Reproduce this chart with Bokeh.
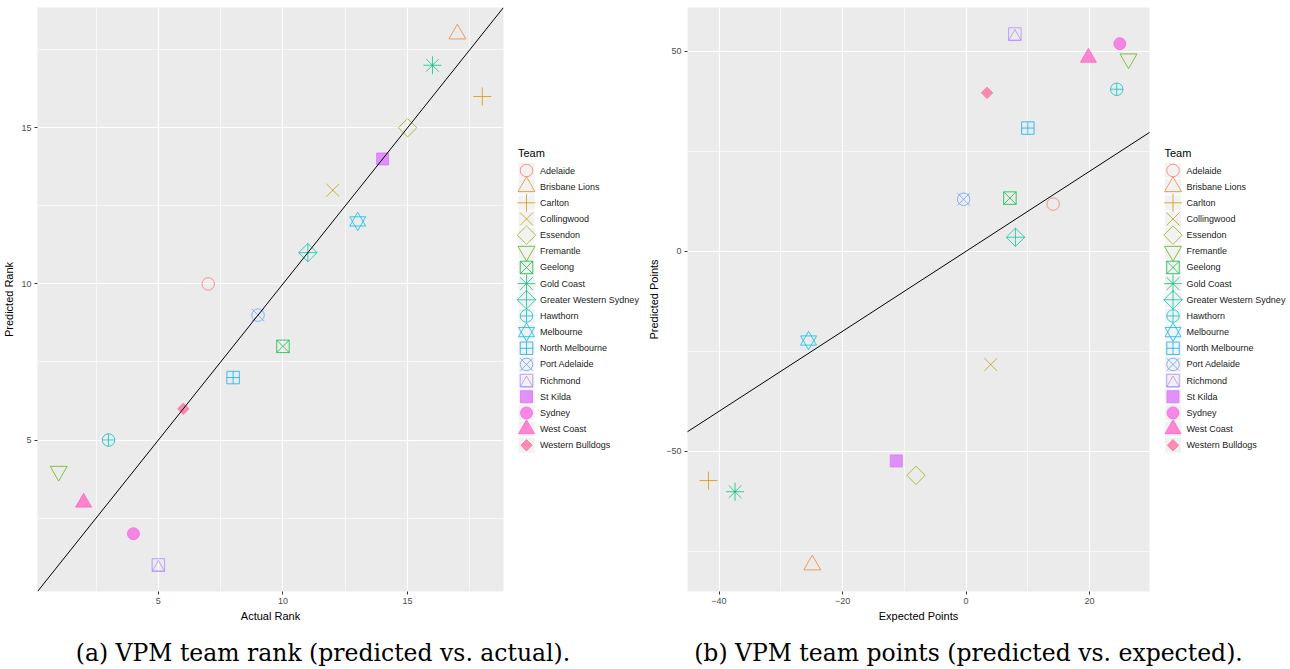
import math
from bokeh.plotting import figure
from bokeh.layouts import row, column
from bokeh.models import Range1d, FixedTicker, ColumnDataSource, Slope
from bokeh.transform import dodge
from bokeh.core.properties import value
from bokeh.embed import file_html
from bokeh.resources import INLINE

# ---------------- data ----------------
teams = ["Adelaide", "Brisbane Lions", "Carlton", "Collingwood", "Essendon", "Fremantle",
         "Geelong", "Gold Coast", "Greater Western Sydney", "Hawthorn", "Melbourne",
         "North Melbourne", "Port Adelaide", "Richmond", "St Kilda", "Sydney",
         "West Coast", "Western Bulldogs"]
actual_rank = [7, 17, 18, 12, 15, 1, 10, 16, 11, 3, 13, 8, 9, 5, 14, 4, 2, 6]
predicted_rank = [10, 18, 16, 13, 15, 4, 8, 17, 11, 5, 12, 7, 9, 1, 14, 2, 3, 6]
expected_points = [14.1, -24.9, -41.7, 4.0, -8.1, 26.3, 7.1, -37.4, 8.0, 24.4,
                   -25.5, 10.0, -0.4, 7.9, -11.3, 24.9, 19.8, 3.4]
predicted_points = [11.8, -78.4, -57.3, -28.3, -56.0, 48.1, 13.3, -60.1, 3.5, 40.5,
                    -22.3, 30.8, 13.0, 54.3, -52.4, 51.9, 48.4, 39.6]
rank_ticks = [5, 10, 15]
rank_minor = [2.5, 7.5, 12.5, 17.5]
exp_ticks = [-40, -20, 0, 20]
exp_minor = [-30, -10, 10]
pred_ticks = [-50, 0, 50]
pred_minor = [-75, -25, 25]
captions = ["(a) VPM team rank (predicted vs. actual).",
            "(b) VPM team points (predicted vs. expected)."]

# ---------------- styles ----------------
palette = ["#F8766D", "#E88526", "#D39200", "#B79F00", "#93AA00", "#5EB300",
           "#00BA38", "#00BF74", "#00C19F", "#00BFC4", "#00B9E3", "#00ADFA",
           "#619CFF", "#AE87FF", "#DB72FB", "#F564E3", "#FF61C3", "#FF699C"]
Q = math.pi / 4
# (marker, filled, size, angle, shift_px)
shapes = [
    [("circle", False, 12.5, 0, 0)],
    [("triangle", False, 17, 0, 0)],
    [("cross", False, 18, 0, 0)],
    [("x", False, 18, 0, 0)],
    [("square", False, 13, Q, 0)],
    [("inverted_triangle", False, 17, 0, 0)],
    [("square_x", False, 12.5, 0, 0)],
    [("asterisk", False, 18, 0, 0)],
    [("square_x", False, 13, Q, 0)],
    [("circle_cross", False, 12.5, 0, 0)],
    [("triangle", False, 16, 0, 0), ("inverted_triangle", False, 16, 0, 0)],
    [("square_cross", False, 12.5, 0, 0)],
    [("circle", False, 12.5, 0, 0), ("x", False, 17.5, 0, 0)],
    [("square", False, 12.5, 0, 0), ("triangle", False, 12.5, 0, 2.65)],
    [("square", True, 12, 0, 0)],
    [("circle", True, 12, 0, 0)],
    [("triangle", True, 16, 0, 0)],
    [("square", True, 8, Q, 0)],
]
ALPHA = 0.75
FONT = "Liberation Sans"
H = 625
TOP, BOTTOM = 7, 34


def expand(vals):
    lo, hi = min(vals), max(vals)
    pad = 0.05 * (hi - lo)
    return lo - pad, hi + pad


def draw_marks(p, i, x, y, px_per_unit, down_sign):
    col = palette[i]
    for (mk, filled, size, ang, shift) in shapes[i]:
        src = ColumnDataSource(dict(x=[x], y=[y]))
        yy = dodge("y", down_sign * shift / px_per_unit, range=p.y_range) if shift else "y"
        p.scatter(x="x", y=yy, source=src, marker=mk, size=size, angle=ang,
                  line_color=col, line_alpha=ALPHA, line_width=1,
                  fill_color=col if filled else None, fill_alpha=ALPHA if filled else 0)


def make_panel(xs, ys, xlabel, ylabel, xt, xm, yt, ym, width, left, right):
    x0, x1 = expand(xs)
    y0, y1 = expand(ys)
    p = figure(width=width, height=H, output_backend="svg", toolbar_location=None,
               x_range=Range1d(x0, x1), y_range=Range1d(y0, y1),
               min_border_left=left, min_border_right=right,
               min_border_top=TOP, min_border_bottom=BOTTOM)
    p.background_fill_color = "#EBEBEB"
    p.border_fill_color = "white"
    p.outline_line_color = None
    p.xaxis.ticker = FixedTicker(ticks=xt, minor_ticks=xm)
    p.yaxis.ticker = FixedTicker(ticks=yt, minor_ticks=ym)
    p.xaxis.axis_label = xlabel
    p.yaxis.axis_label = ylabel
    for ax in (p.xaxis, p.yaxis):
        ax.axis_line_color = None
        ax.major_tick_line_color = "#333333"
        ax.major_tick_in = 0
        ax.major_tick_out = 3
        ax.minor_tick_line_color = None
        ax.major_label_text_color = "#4D4D4D"
        ax.major_label_text_font_size = "9px"
        ax.major_label_text_font = FONT
        ax.major_label_standoff = 2
        ax.axis_label_text_font = FONT
        ax.axis_label_text_font_size = "11px"
        ax.axis_label_text_font_style = "normal"
        ax.axis_label_text_color = "black"
        ax.axis_label_standoff = 3
    p.grid.grid_line_color = "white"
    p.grid.grid_line_width = 1.2
    p.grid.minor_grid_line_color = "white"
    p.grid.minor_grid_line_width = 0.6
    frame_h = H - TOP - BOTTOM
    ppu = frame_h / (y1 - y0)
    for i in range(len(teams)):
        draw_marks(p, i, xs[i], ys[i], ppu, -1)
    p.add_layout(Slope(gradient=1, y_intercept=0, line_color="black", line_width=1))
    return p


def make_legend(width, key_left):
    # frame shares the panel borders; ranges are in page pixels
    L = figure(width=width, height=H, output_backend="svg", toolbar_location=None,
               x_range=Range1d(0, width), y_range=Range1d(H - BOTTOM, TOP),
               x_axis_type=None, y_axis_type=None,
               min_border_left=0, min_border_right=0,
               min_border_top=TOP, min_border_bottom=BOTTOM)
    L.grid.visible = False
    L.outline_line_color = None
    L.background_fill_color = "white"
    L.border_fill_color = "white"
    step = 16.16
    first = 170
    L.text(x=[key_left], y=[152], text=["Team"], text_font=value(FONT),
           text_font_size="11px", text_baseline="middle", text_align="left",
           text_color="black")
    ys = [first + step * i for i in range(len(teams))]
    L.rect(x=[key_left + 8.5] * len(teams), y=ys, width=17, height=step,
           fill_color="#F2F2F2", line_color="white", line_width=1)
    for i in range(len(teams)):
        draw_marks(L, i, key_left + 8.5, ys[i], 1.0, 1)
    L.text(x=[key_left + 22] * len(teams), y=ys, text=teams, text_font=value(FONT),
           text_font_size="9px", text_baseline="middle", text_align="left",
           text_color="#1A1A1A")
    return L


left = make_panel(actual_rank, predicted_rank, "Actual Rank", "Predicted Rank",
                  rank_ticks, rank_minor, rank_ticks, rank_minor, 510, 35, 7)
leg1 = make_legend(135, 7.5)
right = make_panel(expected_points, predicted_points, "Expected Points", "Predicted Points",
                   exp_ticks, exp_minor, pred_ticks, pred_minor, 509, 39, 5)
leg2 = make_legend(136, 10)

CH = 669 - H
cap = figure(width=1290, height=CH, output_backend="svg", toolbar_location=None,
             x_range=Range1d(0, 1290), y_range=Range1d(CH, 0),
             x_axis_type=None, y_axis_type=None, min_border=0)
cap.grid.visible = False
cap.outline_line_color = None
cap.text(x=[322.5, 968], y=[27, 27], text=captions, text_font=value("DejaVu Serif"),
         text_font_size="23.5px", text_align="center", text_baseline="middle",
         text_color="black")

layout = column(row(left, leg1, right, leg2), cap)
open("out.html", "w").write(file_html(layout, INLINE))
